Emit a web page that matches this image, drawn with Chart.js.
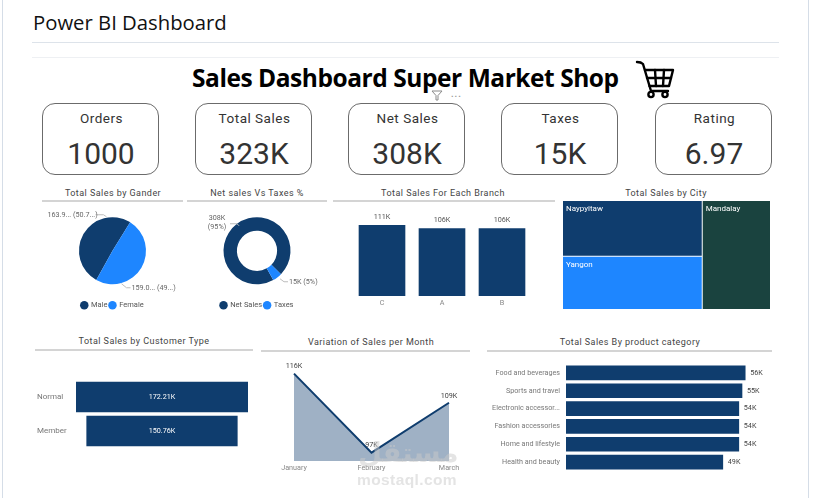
<!DOCTYPE html>
<html>
<head>
<meta charset="utf-8">
<title>Power BI Dashboard</title>
<script src="https://cdn.jsdelivr.net/npm/chart.js@4/dist/chart.umd.min.js"></script>
<style>
    html, body { margin: 0; padding: 0; background: #fff; }
    body { position: relative; width: 815px; height: 498px; overflow: hidden; font-family: Roboto, sans-serif; }
    .abs { position: absolute; }
    canvas.abs { display: block; }
    .heading { left: 33px; top: 8px; font: 500 20.3px "Open Sans", sans-serif; color: #111; white-space: nowrap; }
    .rule { height: 1px; background: #dde3ea; }
    .main-title { top: 61px; font: 700 24.5px "Open Sans", sans-serif; letter-spacing: -.45px; color: #000; white-space: nowrap; }
    .card { width: 115px; height: 70px; top: 103px; border: 1px solid #6b6b6b; border-radius: 13px; text-align: center; color: #333; }
    .card .label { margin-top: 5px; padding-left: 2px; font-size: 13.5px; line-height: 18px; letter-spacing: .5px; }
    .card .value { margin-top: 9px; padding-left: 1px; font-size: 30px; line-height: 36px; }
    .title { font-size: 9px; line-height: 12px; letter-spacing: .45px; color: #444; white-space: nowrap; text-align: center; transform: translateX(-50%); }
    .underline { height: 1.5px; background: #d4d4d4; }
    .mark { z-index: 5; pointer-events: none; color: rgba(202, 202, 202, .5); white-space: nowrap; }
</style>
</head>
<body>
<script>
// Dashboard figures
const kpiNames = ['Orders', 'Total Sales', 'Net Sales', 'Taxes', 'Rating'];
const kpiValues = ['1000', '323K', '308K', '15K', '6.97'];

const genderNames = ['Male', 'Female'];
const genderSales = [163.9, 159.0];
const genderLabels = ['163.9... (50.7...)', '159.0... (49...)'];

const netTaxNames = ['Net Sales', 'Taxes'];
const netTaxValues = [308, 15];

const branchNames = ['C', 'A', 'B'];
const branchSales = [111, 106, 106];

const cityNames = ['Naypyitaw', 'Yangon', 'Mandalay'];
const citySales = [111, 106, 106];

const customerTypes = ['Normal', 'Member'];
const customerSales = [172.21, 150.76];

const months = ['January', 'February', 'March'];
const monthSales = [116, 97, 109];

const productNames = ['Food and beverages', 'Sports and travel', 'Electronic accessor...', 'Fashion accessories', 'Home and lifestyle', 'Health and beauty'];
const productSales = [56, 55, 54, 54, 54, 49];

const NAVY = '#0f3d6e';
const BLUE = '#1e86ff';
const TEAL = '#1a433f';
const LABEL_FONT = '7.2px Roboto, sans-serif';

// --- Small page helpers ---
function addDiv(className, css, text) {
    const el = document.createElement('div');
    el.className = 'abs ' + className;
    el.style.cssText = css;
    if (text !== undefined) el.textContent = text;
    document.body.appendChild(el);
    return el;
}

function addCanvas(left, top, width, height) {
    const canvas = document.createElement('canvas');
    canvas.className = 'abs';
    canvas.width = width;
    canvas.height = height;
    canvas.style.cssText = `left:${left}px;top:${top}px;width:${width}px;height:${height}px`;
    document.body.appendChild(canvas);
    return canvas;
}

function addTitle(text, centerX, top, lineLeft, lineRight, lineTop) {
    addDiv('title', `left:${centerX}px;top:${top}px`, text);
    if (lineLeft !== undefined) {
        addDiv('underline', `left:${lineLeft}px;top:${lineTop}px;width:${lineRight - lineLeft}px`);
    }
}

// Page chrome and headings
addDiv('', 'left:2px;top:0;width:1px;height:498px;background:#d5dde7');
addDiv('', 'left:808px;top:0;width:1px;height:498px;background:#d5dde7');
addDiv('heading', '', 'Power BI Dashboard');
addDiv('rule', 'left:32px;top:42px;width:747px');
addDiv('rule', 'left:32px;top:57px;width:747px;background:#eef0f3');
addDiv('main-title', 'left:192px', 'Sales Dashboard Super Market Shop');

// Shopping cart icon and the visual header icons
document.body.insertAdjacentHTML('beforeend', `
<svg class="abs" style="left:634px;top:58px" width="44" height="42" viewBox="0 0 44 42" fill="none" stroke="#000" stroke-width="2.4" stroke-linecap="round" stroke-linejoin="round">
    <path d="M3 4 Q7 4 9 6 L17 33 L34 33"/>
    <path d="M11 12 L39 12 L35 28 L15.5 28"/>
    <path d="M13 20 L37 20 M21 12 L22 28 M30 12 L29 28"/>
    <circle cx="17" cy="36.5" r="2.6"/>
    <circle cx="31" cy="36.5" r="2.6"/>
</svg>
<svg class="abs" style="left:431px;top:90px" width="12" height="11" viewBox="0 0 12 11" fill="none" stroke="#8a8a8a" stroke-width="1">
    <path d="M1 1 L11 1 L7 5.5 L7 10 L5 10 L5 5.5 Z"/>
</svg>`);
addDiv('', 'left:451px;top:89px;font:700 9px Roboto;letter-spacing:1px;color:#9a9a9a', '...');

// KPI cards
const cardLefts = [42, 195, 348, 501, 655];
kpiNames.forEach((name, i) => {
    const card = addDiv('card', `left:${cardLefts[i]}px`);
    const label = document.createElement('div');
    label.className = 'label';
    label.textContent = name;
    const value = document.createElement('div');
    value.className = 'value';
    value.textContent = kpiValues[i];
    card.append(label, value);
});

// Section titles
addTitle('Total Sales by Gander', 113, 187, 42, 183, 200);
addTitle('Net sales Vs Taxes %', 257, 187, 187, 327, 200);
addTitle('Total Sales For Each Branch', 443, 187, 333, 555, 200);
addTitle('Total Sales by City', 666, 187);
addTitle('Total Sales by Customer Type', 144, 335, 35, 253, 349);
addTitle('Variation of Sales per Month', 371, 336, 261, 470, 350);
addTitle('Total Sales By product category', 630, 336, 487, 772, 350);

// Watermark across the bottom of the month chart
addDiv('mark', 'left:358px;top:436px;font:700 27.5px "DejaVu Sans", sans-serif', 'مستقل');
addDiv('mark', 'left:357px;top:471px;font:700 15.5px "Liberation Sans", sans-serif;letter-spacing:.4px', 'mostaql.com');

// --- Plugins ---

// Prints a text next to each bar or point of the first dataset
const valueLabels = {
    id: 'valueLabels',
    afterDatasetsDraw(chart, args, opts) {
        if (!opts.texts) return;
        const ctx = chart.ctx;
        ctx.save();
        ctx.font = LABEL_FONT;
        ctx.fillStyle = opts.color || '#555';
        ctx.textAlign = opts.align || 'center';
        ctx.textBaseline = 'middle';
        chart.getDatasetMeta(0).data.forEach((el, i) => {
            const base = opts.centered ? el.getCenterPoint() : el;
            ctx.fillText(opts.texts[i], base.x + (opts.dx || 0), base.y + (opts.dy || 0));
        });
        ctx.restore();
    }
};

// Outside labels with a small leader line, offsets counted from the pie centre
const leaderLabels = {
    id: 'leaderLabels',
    afterDatasetsDraw(chart, args, opts) {
        if (!opts.items) return;
        const ctx = chart.ctx;
        const arc = chart.getDatasetMeta(0).data[0];
        ctx.save();
        ctx.font = LABEL_FONT;
        ctx.textBaseline = 'middle';
        opts.items.forEach(item => {
            ctx.strokeStyle = '#bdbdbd';
            ctx.lineWidth = 1;
            ctx.beginPath();
            item.line.forEach((p, i) => {
                if (i === 0) ctx.moveTo(arc.x + p[0], arc.y + p[1]);
                else ctx.lineTo(arc.x + p[0], arc.y + p[1]);
            });
            ctx.stroke();
            ctx.fillStyle = '#666';
            ctx.textAlign = item.align;
            item.text.forEach((line, i) => {
                ctx.fillText(line, arc.x + item.at[0], arc.y + item.at[1] + i * 9);
            });
        });
        ctx.restore();
    }
};

// Treemap tiles laid out on the chart's own x and y scales
const treemapTiles = {
    id: 'treemapTiles',
    afterDatasetsDraw(chart, args, opts) {
        if (!opts.names) return;
        const { ctx, scales: { x, y } } = chart;
        const total = opts.values.reduce((a, b) => a + b, 0);
        const firstColumn = opts.values[0] + opts.values[1];
        const split = opts.values[0] / firstColumn;
        const tiles = [
            [0, firstColumn, 0, split],
            [0, firstColumn, split, 1],
            [firstColumn, total, 0, 1]
        ];
        ctx.save();
        tiles.forEach((t, i) => {
            const left = x.getPixelForValue(t[0]);
            const right = x.getPixelForValue(t[1]);
            const top = y.getPixelForValue(t[2]);
            const bottom = y.getPixelForValue(t[3]);
            ctx.fillStyle = opts.colors[i];
            ctx.fillRect(left, top, right - left - 1, bottom - top - 1);
            ctx.font = '8px Roboto, sans-serif';
            ctx.fillStyle = '#fff';
            ctx.textAlign = 'left';
            ctx.textBaseline = 'middle';
            ctx.fillText(opts.names[i], left + 3, top + 8);
        });
        ctx.restore();
    }
};

Chart.register(valueLabels, leaderLabels, treemapTiles);
Chart.defaults.animation = false;
Chart.defaults.responsive = false;
Chart.defaults.font.family = 'Roboto, sans-serif';
Chart.defaults.font.size = 7.2;
Chart.defaults.color = '#777';
Chart.defaults.plugins.tooltip.enabled = false;
Chart.defaults.plugins.legend.display = false;

function pieLegend() {
    return {
        display: true,
        position: 'bottom',
        labels: { usePointStyle: true, pointStyle: 'circle', boxWidth: 6, boxHeight: 6, padding: 2, color: '#555', font: { size: 7.5 } }
    };
}

// Gridless axis with no tick marks, so labels sit right at the plot edge
function bareAxis(ticks, afterFit) {
    return {
        grid: { display: false, drawTicks: false },
        border: { display: false },
        ticks,
        afterFit
    };
}

// Lets the first and last category fill the full plot height
function fixedWidth(width) {
    return axis => {
        axis.width = width;
        axis.paddingTop = 0;
        axis.paddingBottom = 0;
    };
}

// Total Sales by Gander
new Chart(addCanvas(42, 198, 141, 121), {
    type: 'pie',
    data: {
        labels: genderNames,
        datasets: [{ data: genderSales, backgroundColor: [NAVY, BLUE], borderWidth: 0 }]
    },
    options: {
        radius: 33.5,
        rotation: 209,
        layout: { padding: { top: 4 } },
        plugins: {
            legend: pieLegend(),
            leaderLabels: {
                items: [
                    { text: [genderLabels[0]], at: [-65, -36], align: 'left', line: [[-17, -36], [-9, -36], [-6, -34]] },
                    { text: [genderLabels[1]], at: [19, 37], align: 'left', line: [[9, 33], [14, 37], [18, 37]] }
                ]
            }
        }
    }
});

// Net sales Vs Taxes %
new Chart(addCanvas(187, 198, 140, 121), {
    type: 'doughnut',
    data: {
        labels: netTaxNames,
        datasets: [{ data: netTaxValues, backgroundColor: [NAVY, BLUE], borderWidth: 0 }]
    },
    options: {
        radius: 33.5,
        cutout: '60%',
        rotation: 151,
        layout: { padding: { top: 4 } },
        plugins: {
            legend: pieLegend(),
            leaderLabels: {
                items: [
                    { text: ['308K', '(95%)'], at: [-40, -33], align: 'center', line: [[-27, -27], [-20, -27], [-18, -25]] },
                    { text: ['15K (5%)'], at: [32, 31], align: 'left', line: [[23, 28], [27, 31], [31, 31]] }
                ]
            }
        }
    }
});

// Total Sales For Each Branch
new Chart(addCanvas(352, 210, 180, 100), {
    type: 'bar',
    data: {
        labels: branchNames,
        datasets: [{ data: branchSales, backgroundColor: NAVY, barThickness: 46 }]
    },
    options: {
        scales: {
            x: bareAxis({ padding: 3, color: '#888' }, axis => { axis.height = 14; }),
            y: { display: false, min: 0, max: 135 }
        },
        plugins: { valueLabels: { texts: branchSales.map(v => v + 'K'), dy: -8 } }
    }
});

// Total Sales by City
new Chart(addCanvas(563, 201, 208, 109), {
    type: 'scatter',
    data: { datasets: [{ data: [], pointRadius: 0 }] },
    options: {
        scales: {
            x: { display: false, min: 0, max: citySales.reduce((a, b) => a + b, 0) },
            y: { display: false, min: 0, max: 1, reverse: true }
        },
        plugins: { treemapTiles: { names: cityNames, values: citySales, colors: [NAVY, BLUE, TEAL] } }
    }
});

// Total Sales by Customer Type: bars centred on a shared axis, funnel style
const funnelWidth = Math.max(...customerSales);
new Chart(addCanvas(37, 380, 211, 68), {
    type: 'bar',
    data: {
        labels: customerTypes,
        datasets: [{
            data: customerSales.map(v => [(funnelWidth - v) / 2, (funnelWidth + v) / 2]),
            backgroundColor: NAVY,
            barThickness: 30
        }]
    },
    options: {
        indexAxis: 'y',
        scales: {
            x: { display: false, min: 0, max: funnelWidth },
            y: bareAxis({ crossAlign: 'far', padding: 0, color: '#777', font: { size: 8 } }, fixedWidth(39))
        },
        plugins: {
            valueLabels: { texts: customerSales.map(v => v.toFixed(2) + 'K'), color: '#fff', centered: true }
        }
    }
});

// Variation of Sales per Month
new Chart(addCanvas(270, 357, 200, 118), {
    type: 'line',
    data: {
        labels: months,
        datasets: [{
            data: monthSales,
            borderColor: NAVY,
            borderWidth: 2,
            backgroundColor: 'rgba(15, 61, 110, 0.4)',
            fill: 'origin',
            pointRadius: 0,
            tension: 0
        }]
    },
    options: {
        layout: { padding: { left: 24, right: 21 } },
        scales: {
            x: bareAxis({ padding: 3, maxRotation: 0, autoSkip: false, color: '#888' }, axis => { axis.height = 14; }),
            y: { display: false, min: 95, max: 120 }
        },
        plugins: { valueLabels: { texts: monthSales.map(v => v + 'K'), dy: -7, color: '#444' } }
    }
});

// Total Sales By product category
new Chart(addCanvas(480, 364, 310, 107), {
    type: 'bar',
    data: {
        labels: productNames,
        datasets: [{ data: productSales, backgroundColor: NAVY, barThickness: 14 }]
    },
    options: {
        indexAxis: 'y',
        scales: {
            x: { display: false, min: 0, max: 70 },
            y: bareAxis({ padding: 6, autoSkip: false, color: '#777' }, fixedWidth(86))
        },
        plugins: { valueLabels: { texts: productSales.map(v => v + 'K'), align: 'left', dx: 5, color: '#444' } }
    }
});
</script>
</body>
</html>
